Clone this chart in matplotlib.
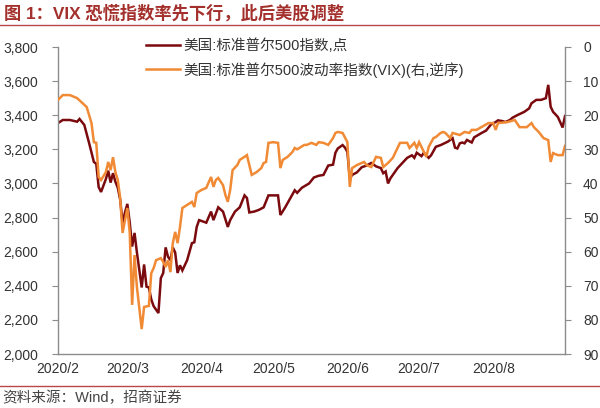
import pandas as pd
import matplotlib.pyplot as plt
from matplotlib.lines import Line2D
from matplotlib.ticker import FuncFormatter

plt.rcParams['font.family'] = ['Liberation Sans', 'Noto Sans CJK SC']

# data: day offsets from 2020-02-10 and values
start = pd.Timestamp('2020-02-10')
sp_day = [0, 2, 5, 8, 9, 11, 13, 15, 16, 17, 18, 20, 21, 22, 23, 24, 25, 26, 27, 28,
          29, 30, 31, 32, 33, 35, 36, 37, 38, 39, 40, 42, 43, 44, 45, 46, 47, 48, 49, 50,
          51, 52, 54, 56, 57, 58, 59, 62, 64, 65, 67, 69, 71, 72, 74, 76, 78, 79, 80, 82,
          84, 86, 88, 92, 93, 95, 98, 99, 100, 102, 105, 107, 109, 111, 113, 115, 116, 117, 119, 120,
          121, 122, 123, 125, 127, 129, 131, 133, 135, 136, 137, 138, 139, 140, 142, 144, 146, 148, 149, 150,
          152, 153, 155, 156, 158, 160, 163, 165, 166, 167, 168, 169, 170, 171, 173, 174, 177, 179, 181, 183,
          184, 186, 187, 189, 190, 192, 195, 197, 198, 200, 202, 204, 205, 206, 207, 209, 211, 212]
sp_val = [3354, 3372, 3372, 3362, 3378, 3343, 3237, 3126, 3115, 2979, 2950, 3025, 3075, 3005, 3060, 3010, 2975, 2905, 2770, 2830,
          2880, 2770, 2630, 2710, 2595, 2390, 2525, 2395, 2390, 2320, 2280, 2240, 2445, 2475, 2625, 2570, 2550, 2625, 2595, 2475,
          2520, 2490, 2550, 2650, 2655, 2745, 2785, 2770, 2835, 2785, 2860, 2835, 2745, 2785, 2835, 2860, 2930, 2915, 2830, 2835,
          2845, 2860, 2930, 2930, 2815, 2860, 2935, 2960, 2945, 2975, 3000, 3035, 3045, 3050, 3105, 3110, 3180, 3205, 3225, 3210,
          3185, 3030, 3050, 3065, 3095, 3105, 3120, 3100, 3090, 3060, 3070, 3000, 3030, 3050, 3090, 3120, 3150, 3165, 3150, 3180,
          3160, 3180, 3150, 3165, 3215, 3225, 3245, 3265, 3210, 3205, 3235, 3240, 3235, 3255, 3240, 3270, 3295, 3310, 3345, 3360,
          3370, 3365, 3360, 3372, 3385, 3400, 3420, 3440, 3470, 3490, 3490, 3500, 3578, 3450, 3420, 3390, 3328, 3395]

vix_day = [0, 2, 5, 8, 12, 14, 15, 16, 17, 18, 20, 21, 22, 23, 24, 25, 26, 27, 29, 30,
           31, 32, 33, 35, 36, 38, 39, 40, 41, 43, 44, 45, 46, 47, 48, 49, 50, 51, 52, 54,
           56, 57, 58, 60, 62, 64, 65, 66, 67, 69, 70, 71, 72, 73, 75, 76, 78, 79, 81, 83,
           85, 86, 87, 88, 90, 92, 93, 94, 96, 98, 99, 100, 103, 104, 106, 108, 109, 111, 113, 115,
           116, 117, 119, 121, 122, 123, 125, 128, 129, 131, 132, 133, 135, 136, 138, 140, 142, 143, 144, 146,
           147, 149, 150, 151, 153, 154, 155, 157, 158, 160, 161, 162, 164, 165, 168, 170, 172, 173, 175, 177,
           180, 182, 183, 184, 188, 191, 193, 196, 198, 199, 201, 203, 205, 206, 207, 209, 211, 212]
vix_val = [15.5, 14.1, 14.1, 15.0, 17.6, 22.3, 27.9, 28.1, 38.1, 39.0, 36.7, 33.7, 36.1, 32.3, 36.7, 39.0, 44.3, 54.5, 47.2, 54.5,
           75.6, 61.0, 70.4, 82.7, 76.2, 75.9, 66.3, 64.8, 62.5, 61.9, 63.0, 64.5, 62.5, 66.0, 57.5, 54.2, 57.5, 52.8, 47.2, 46.3,
           45.4, 46.9, 42.8, 41.9, 41.3, 38.1, 41.0, 39.0, 38.4, 40.5, 43.4, 45.4, 41.9, 36.1, 34.6, 33.1, 32.2, 31.7, 37.5, 36.7,
           35.5, 34.0, 33.7, 28.1, 27.9, 28.1, 35.5, 33.1, 32.2, 30.8, 29.6, 30.0, 28.7, 28.7, 28.1, 28.7, 27.9, 28.1, 28.7, 26.7,
           25.2, 24.9, 25.2, 27.9, 41.0, 35.5, 34.6, 33.7, 34.6, 35.2, 33.7, 32.2, 32.5, 35.2, 34.0, 32.5, 29.6, 28.1, 28.1, 28.1,
           29.6, 28.1, 29.6, 27.9, 30.8, 32.2, 29.3, 26.7, 26.4, 25.2, 24.9, 25.2, 26.7, 25.2, 25.8, 24.9, 25.2, 24.3, 24.3, 23.5,
           22.3, 22.3, 24.3, 22.3, 22.0, 21.4, 23.5, 23.5, 22.3, 23.5, 24.9, 26.7, 27.3, 33.7, 31.1, 31.7, 31.7, 29.0]

tick_dates = ['2020-02-10', '2020-03-10', '2020-04-10', '2020-05-10', '2020-06-10', '2020-07-10', '2020-08-10']
tick_labels = ['2020/2', '2020/3', '2020/4', '2020/5', '2020/6', '2020/7', '2020/8']

sp_x = start + pd.to_timedelta(sp_day, unit='D')
vix_x = start + pd.to_timedelta(vix_day, unit='D')

dark = '#7A0A0E'
orange = '#F08A35'
grey = '#8C8C8C'
txt = '#333333'
red = '#B8474B'

fig = plt.figure(figsize=(6, 4.08), dpi=100)
ax = fig.add_axes([58 / 600, 1 - 354 / 408, (565 - 58) / 600, (354 - 47) / 408])
ax2 = ax.twinx()

ax.plot(sp_x, sp_val, color=dark, lw=1.8, solid_joinstyle='miter')
ax2.plot(vix_x, vix_val, color=orange, lw=1.8, solid_joinstyle='miter')

ax.set_xlim(start, start + pd.Timedelta(days=212))
ax.set_ylim(2000, 3800)
ax.set_yticks(range(2000, 3801, 200))
ax.yaxis.set_major_formatter(FuncFormatter(lambda v, p: f'{int(v):,}'))
ax2.set_ylim(90, 0)
ax2.set_yticks(range(0, 91, 10))

ax.set_xticks(pd.to_datetime(tick_dates))
ax.set_xticklabels(tick_labels)

for a in (ax, ax2):
    a.spines['top'].set_visible(False)
    for s in ('left', 'right', 'bottom'):
        a.spines[s].set_color(grey)
        a.spines[s].set_linewidth(1.0)
ax.spines['right'].set_visible(False)
ax2.spines['left'].set_visible(False)
ax2.spines['bottom'].set_visible(False)

ax.tick_params(axis='y', direction='out', length=4, color=grey, labelsize=10, labelcolor=txt, pad=10)
ax2.tick_params(axis='y', direction='out', length=4, color=grey, labelsize=10, labelcolor=txt, pad=9)
ax.tick_params(axis='x', length=0, labelsize=10, labelcolor=txt, pad=6)

handles = [Line2D([], [], color=dark, lw=1.8), Line2D([], [], color=orange, lw=1.8)]
labels = ['美国:标准普尔500指数,点', '美国:标准普尔500波动率指数(VIX)(右,逆序)']
fig.legend(handles, labels, loc='upper left', bbox_to_anchor=(146 / 600, 1 - 38 / 408),
           frameon=False, fontsize=10.5, handlelength=2.3, handletextpad=0.25,
           labelspacing=0.62, borderaxespad=0, borderpad=0, labelcolor=txt)

fig.text(4 / 600, 1 - 13 / 408, '图 1：VIX 恐慌指数率先下行，此后美股调整', fontsize=12.4,
         fontweight='bold', color='#A3302C', va='center', ha='left')
fig.add_artist(Line2D([0, 1], [1 - 25 / 408, 1 - 25 / 408], color=red, lw=1.0))
fig.add_artist(Line2D([0, 1], [1 - 386 / 408, 1 - 386 / 408], color=red, lw=1.0))
fig.text(2 / 600, 1 - 398 / 408, '资料来源：Wind，招商证券', fontsize=10.5, color='#444444',
         va='center', ha='left')

fig.savefig('out.png', dpi=100)
